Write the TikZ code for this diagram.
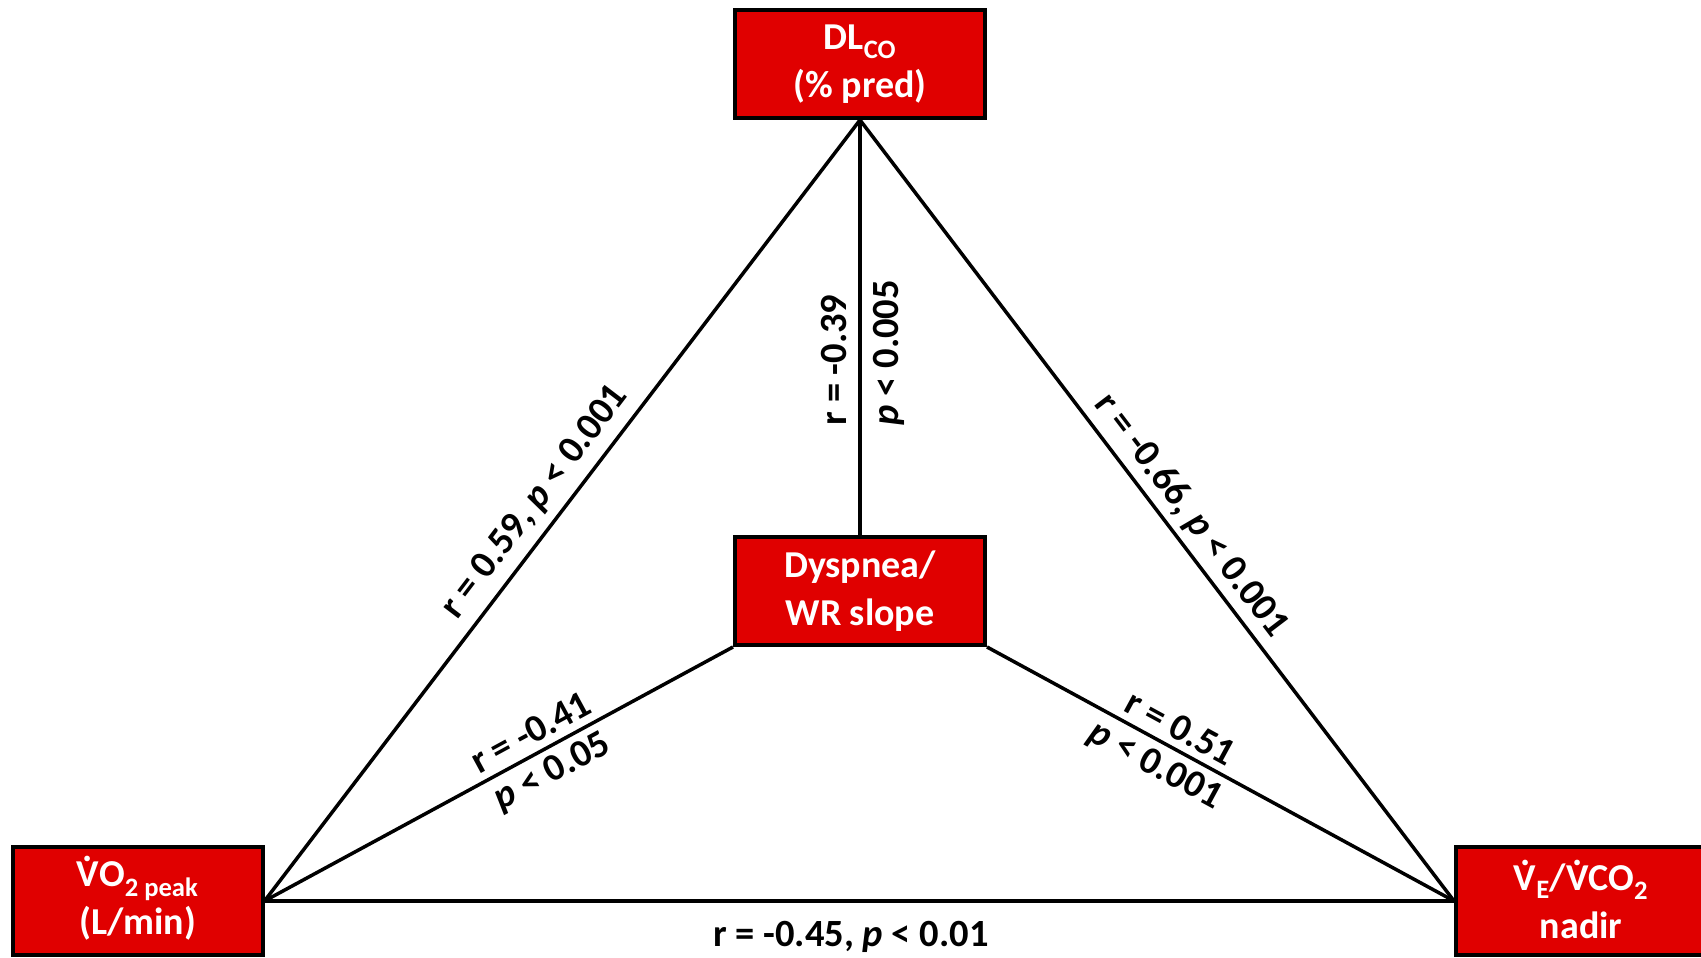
\documentclass[tikz,border=0pt]{standalone}
\usepackage{fontspec}
\setmainfont{Carlito}
\definecolor{boxred}{RGB}{224,0,0}
\newcommand{\Vdt}{\ooalign{V\cr\hidewidth\raisebox{0.66em}{.}\hidewidth\cr}}
\begin{document}
\begin{tikzpicture}[x=1pt,y=1pt,
  box/.style={draw=black, line width=4pt, fill=boxred, text=white,
    font=\bfseries\fontsize{38}{48}\selectfont, align=center,
    minimum width=250pt, minimum height=108pt, inner sep=0pt},
  conn/.style={line width=3.5pt, black},
  lab/.style={font=\bfseries\fontsize{38.5}{44}\selectfont, text=black, inner sep=3pt}]
\useasboundingbox (0,0) rectangle (1701,958);
\node[box] (dl) at (860,894) {DL\textsubscript{CO}\\(\% pred)};
\node[box] (dy) at (860,367) {Dyspnea/\\WR slope};
\node[box] (vo) at (137.5,57) {\Vdt O\textsubscript{2 peak}\\(L/min)};
\node[box] (ve) at (1581,57) {\Vdt\textsubscript{E}/\Vdt CO\textsubscript{2}\\nadir};
\draw[conn] (vo.east) -- node[lab, sloped, above, inner ysep=9pt, pos=0.49]{r = 0.59, \textit{p} < 0.001} (dl.south);
\draw[conn] (dl.south) -- node[lab, sloped, above, inner ysep=6pt, pos=0.525]{r = -0.66, \textit{p} < 0.001} (ve.west);
\draw[conn] (vo.east) -- node[lab, below, inner ysep=19pt, pos=0.493]{r = -0.45, \textit{p} < 0.01} (ve.west);
\draw[conn] (dy.north) -- node[lab, sloped, anchor=south west, inner xsep=0pt, inner ysep=11pt, pos=0.26]{r = -0.39}
  node[lab, sloped, anchor=north west, inner xsep=0pt, inner ysep=11pt, pos=0.26]{\textit{p} < 0.005} (dl.south);
\draw[conn] (vo.east) -- node[lab, sloped, above, inner ysep=7pt, pos=0.59]{r = -0.41}
  node[lab, sloped, below, inner ysep=7pt, pos=0.59]{\textit{p} < 0.05} (dy.south west);
\draw[conn] (dy.south east) -- node[lab, sloped, above, inner ysep=7pt, pos=0.385, xshift=4pt]{r = 0.51}
  node[lab, sloped, below, inner ysep=7pt, pos=0.385]{\textit{p} < 0.001} (ve.west);
\end{tikzpicture}
\end{document}
